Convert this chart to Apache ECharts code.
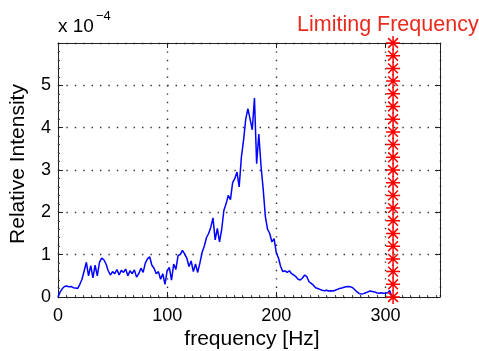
<!DOCTYPE html>
<html>
<head>
<meta charset="utf-8">
<script src="https://cdn.jsdelivr.net/npm/echarts@6/dist/echarts.min.js"></script>
<style>
html,body{margin:0;padding:0;background:#fff;}
#c{width:479px;height:351px;}
</style>
</head>
<body>
<div id="c"></div>
<script>
// frequency [Hz]
var freq = [
  0,2,4,6,8,10,12,14,16,18,
  20,22,24,26,28,30,32,34,36,38,
  40,42,44,46,48,50,52,54,56,58,
  60,62,64,66,68,70,72,74,76,78,
  80,82,84,86,88,90,92,94,96,98,
  100,102,104,106,108,110,112,114,116,118,
  120,122,124,126,128,130,132,134,136,138,
  140,142,144,146,148,150,152,154,156,158,
  160,162,164,166,168,170,172,174,176,178,
  180,182,184,186,188,190,192,194,196,198,
  200,202,204,206,208,210,212,214,216,218,
  220,222,224,226,228,230,232,234,236,238,
  240,242,244,246,248,250,252,254,256,258,
  260,262,264,266,268,270,272,274,276,278,
  280,282,284,286,288,290,292,294,296,298,
  300,302,304,306
];
// relative intensity (x 10^-4)
var intensity = [
  0.00,0.12,0.20,0.25,0.26,0.24,0.25,0.22,0.21,0.20,
  0.30,0.42,0.62,0.82,0.50,0.74,0.45,0.75,0.50,0.82,
  0.92,0.88,0.78,0.62,0.52,0.60,0.55,0.65,0.52,0.63,
  0.58,0.66,0.50,0.62,0.55,0.64,0.47,0.55,0.68,0.58,
  0.80,0.90,0.95,0.75,0.68,0.55,0.60,0.42,0.55,0.30,
  0.62,0.70,0.40,0.78,0.65,0.98,1.00,1.10,1.02,0.92,
  0.72,0.85,0.60,0.78,0.58,0.80,1.05,1.20,1.40,1.50,
  1.65,1.87,1.35,1.62,1.30,1.60,2.05,2.20,2.40,2.30,
  2.70,2.80,2.95,2.60,3.30,3.70,4.20,4.45,4.20,3.95,
  4.70,3.15,3.85,3.10,2.55,1.90,1.60,1.50,1.30,1.38,
  1.05,0.92,0.72,0.60,0.62,0.58,0.62,0.55,0.52,0.48,
  0.42,0.40,0.45,0.52,0.48,0.36,0.32,0.28,0.22,0.20,
  0.18,0.16,0.15,0.16,0.14,0.15,0.14,0.16,0.18,0.20,
  0.21,0.23,0.24,0.25,0.24,0.22,0.17,0.12,0.08,0.07,
  0.08,0.10,0.12,0.14,0.13,0.12,0.10,0.09,0.10,0.09,
  0.09,0.10,0.15,0.00
];
// limiting frequency marker column
var limitFreq = 307;
var limitY = [0,0.3,0.6,0.9,1.2,1.5,1.8,2.1,2.4,2.7,3.0,3.3,3.6,3.9,4.2,4.5,4.8,5.1,5.4,5.7,6.0];
var xTicks = [0,100,200,300];
var yTicks = [0,1,2,3,4,5];

var lineData = freq.map(function(f,i){return [f,intensity[i]];});
var limitData = limitY.map(function(y){return [limitFreq,y];});

var FONT = '"Liberation Sans", Arial, Helvetica, sans-serif';
var axisColor = '#222';
var gridLine = {show:true,lineStyle:{color:'#333',width:1.4,type:[1.4,7]}};

var chart = echarts.init(document.getElementById('c'), null, {renderer:'canvas'});
chart.setOption({
  animation:false,
  backgroundColor:'#fff',
  grid:{left:58,right:39,top:43,bottom:54,containLabel:false},
  xAxis:[{
    type:'value',min:0,max:350,interval:100,position:'bottom',
    axisLine:{show:true,onZero:false,lineStyle:{color:axisColor,width:1}},
    axisTick:{show:true,inside:true,length:5,lineStyle:{color:axisColor}},
    minorTick:{show:true,splitNumber:13,length:2,lineStyle:{color:'#444'}},
    axisLabel:{show:true,fontSize:18,color:'#000',fontFamily:FONT,margin:10,showMaxLabel:false,
      formatter:function(v){return xTicks.indexOf(v)>=0?String(v):'';}},
    splitLine:gridLine
  },{
    type:'value',min:0,max:350,interval:100,position:'top',
    axisLine:{show:true,onZero:false,lineStyle:{color:axisColor,width:1}},
    axisTick:{show:true,inside:true,length:5,lineStyle:{color:axisColor}},
    axisLabel:{show:false},splitLine:{show:false}
  }],
  yAxis:[{
    type:'value',min:0,max:6,interval:1,position:'left',
    axisLine:{show:true,onZero:false,lineStyle:{color:axisColor,width:1}},
    axisTick:{show:true,inside:true,length:5,lineStyle:{color:axisColor}},
    minorTick:{show:true,splitNumber:5,length:2,lineStyle:{color:'#444'}},
    axisLabel:{show:true,fontSize:18,color:'#000',fontFamily:FONT,margin:7,showMaxLabel:false,
      formatter:function(v){return yTicks.indexOf(v)>=0?String(v):'';}},
    splitLine:gridLine
  },{
    type:'value',min:0,max:6,interval:1,position:'right',
    axisLine:{show:true,onZero:false,lineStyle:{color:axisColor,width:1}},
    axisTick:{show:true,inside:true,length:5,lineStyle:{color:axisColor}},
    axisLabel:{show:false},splitLine:{show:false}
  }],
  series:[{
    type:'line',xAxisIndex:0,yAxisIndex:0,data:lineData,
    showSymbol:false,symbol:'none',
    lineStyle:{color:'#0000ff',width:1.5},
    z:3
  },{
    type:'scatter',xAxisIndex:0,yAxisIndex:0,data:limitData,clip:false,
    symbol:'path://M10 0L10 20M0 10L20 10M3 3L17 17M3 17L17 3',
    symbolSize:14,
    itemStyle:{color:'rgba(0,0,0,0)',borderColor:'#ff0000',borderWidth:1.5,opacity:1},
    z:4
  }],
  graphic:[
    {type:'text',left:58,top:17,style:{text:'x 10',font:'19px '+FONT,fill:'#000'}},
    {type:'text',left:96,top:10,style:{text:'\u22124',font:'13px '+FONT,fill:'#000'}},
    {type:'text',left:297,top:14,style:{text:'Limiting Frequency',font:'21.5px '+FONT,fill:'#ea2a1e'}},
    {type:'text',x:18,y:164,rotation:Math.PI/2,style:{text:'Relative Intensity',font:'21px '+FONT,fill:'#000',align:'center',verticalAlign:'middle'}},
    {type:'text',x:252,y:339,style:{text:'frequency [Hz]',font:'21px '+FONT,fill:'#000',align:'center',verticalAlign:'middle'}}
  ]
});
</script>
</body>
</html>
